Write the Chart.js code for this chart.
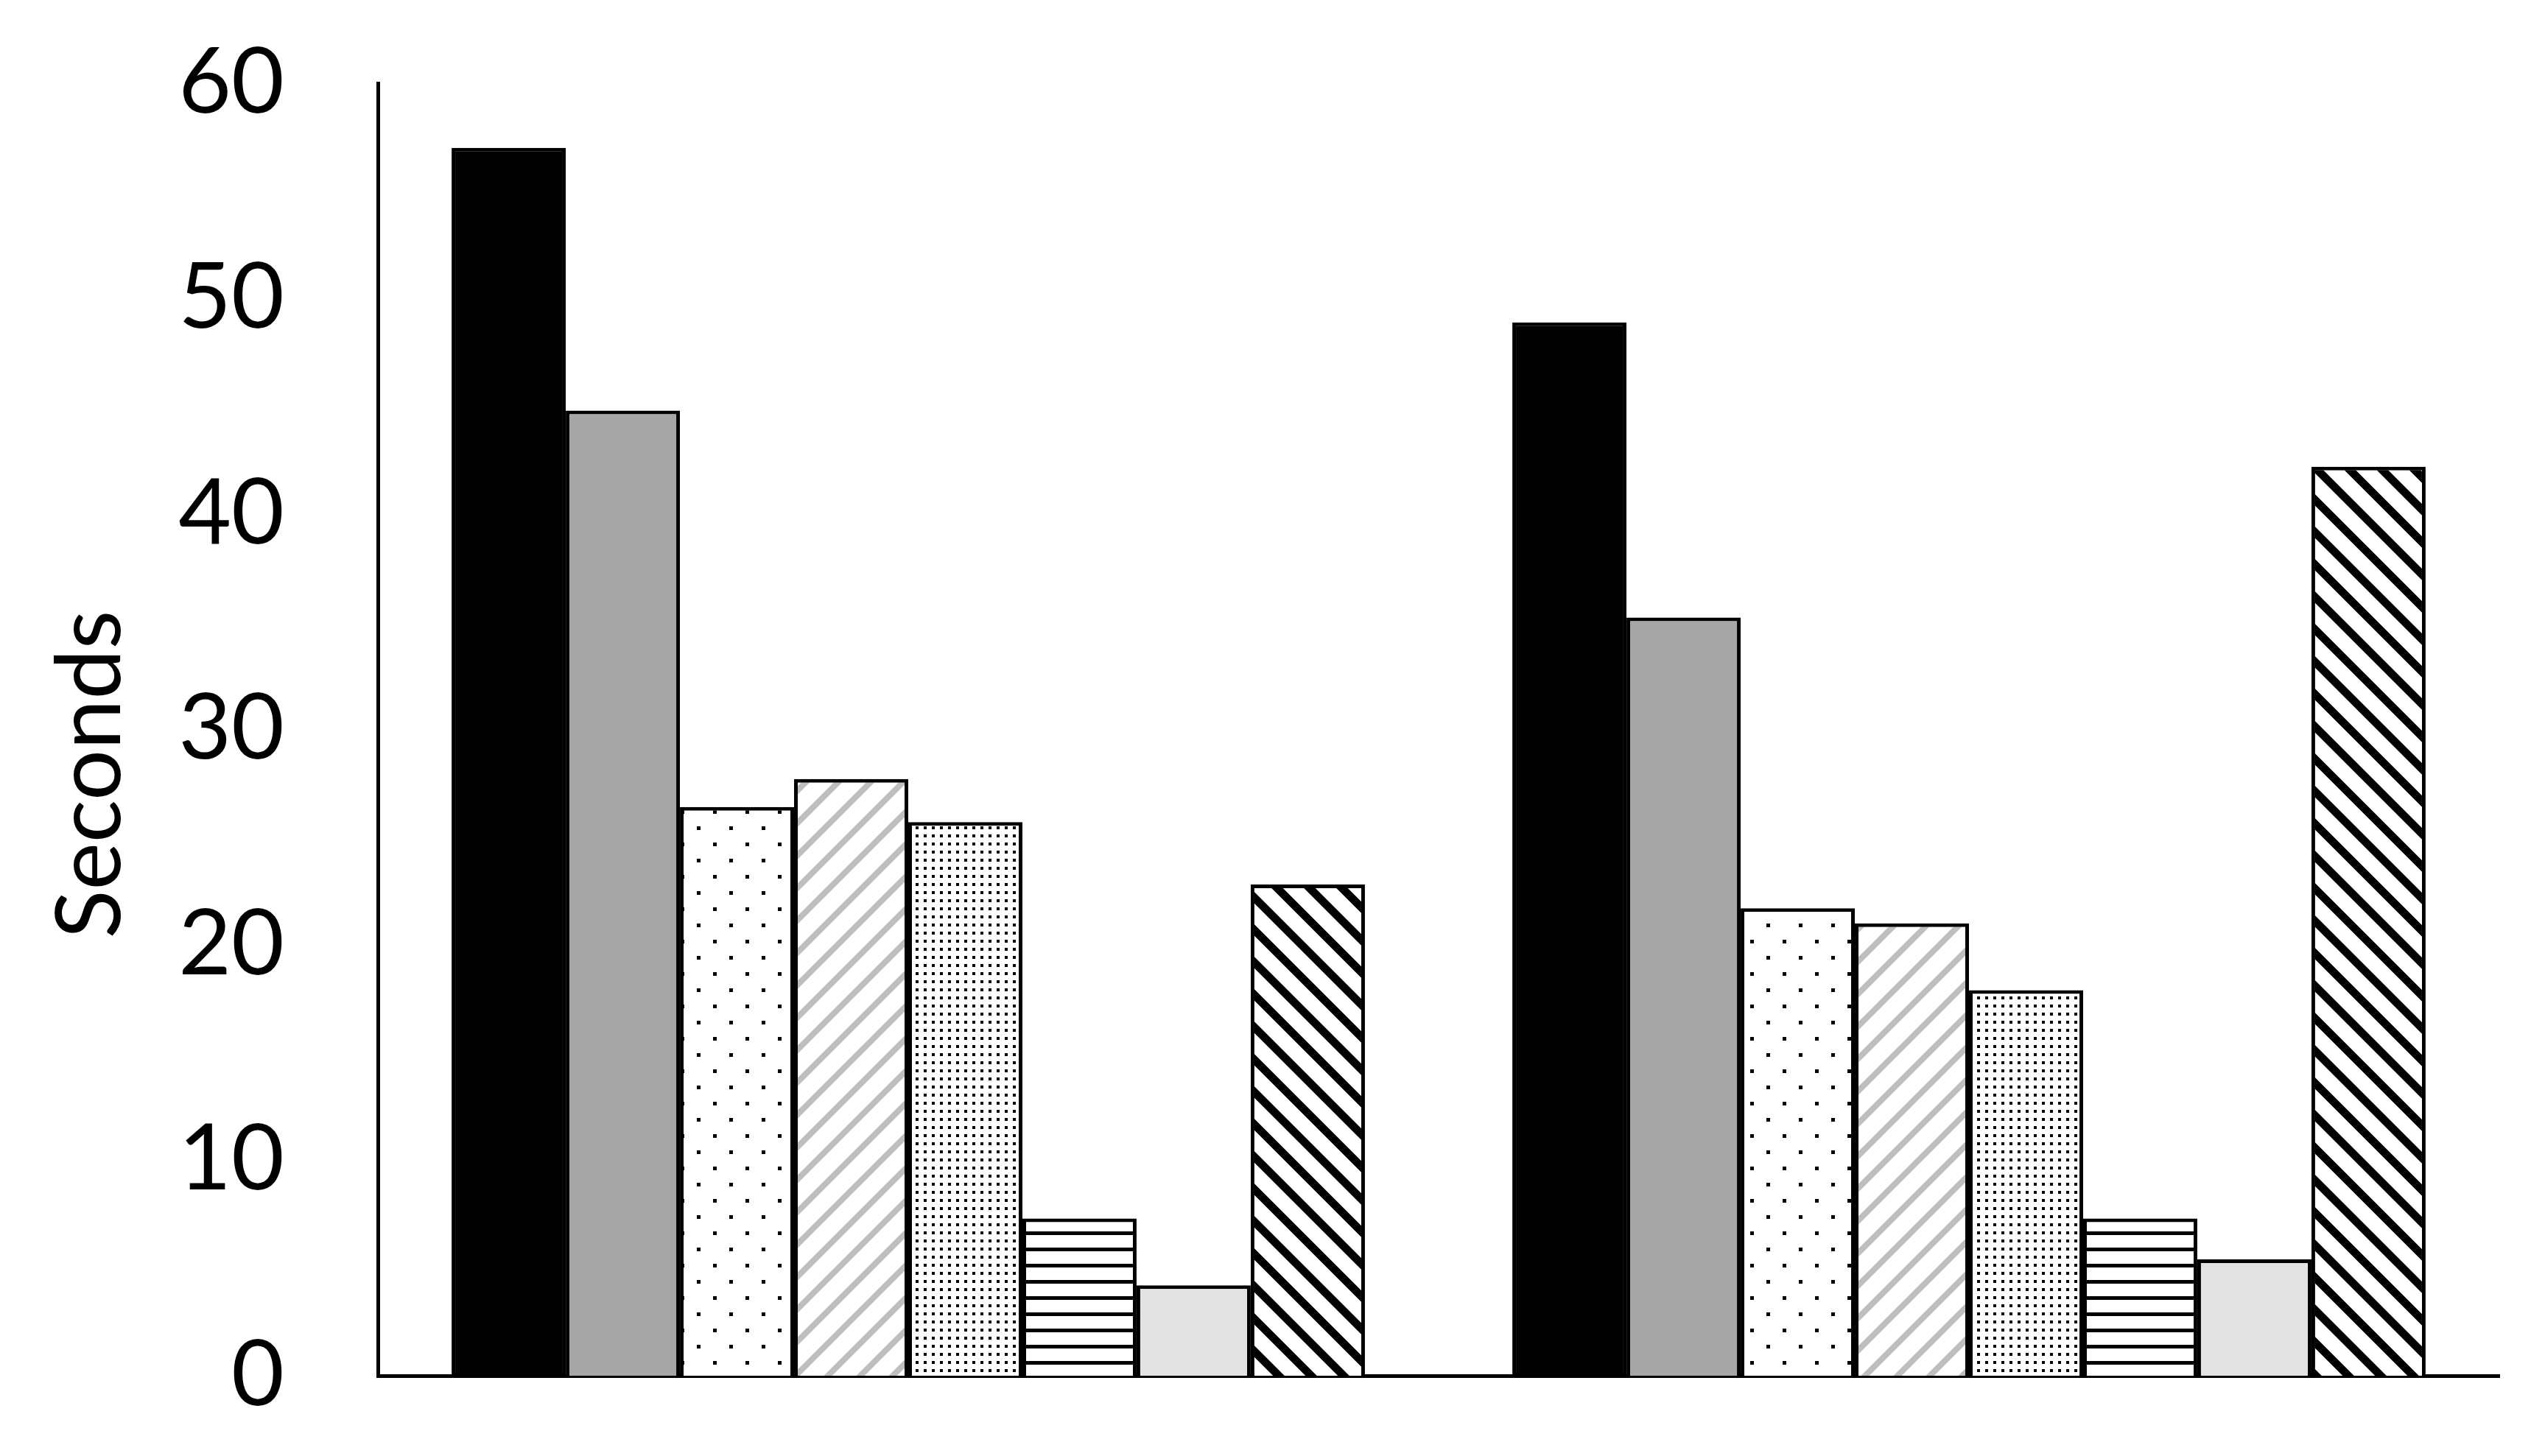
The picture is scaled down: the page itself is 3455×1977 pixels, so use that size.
<!DOCTYPE html>
<html>
<head>
<meta charset="utf-8">
<script src="https://cdn.jsdelivr.net/npm/chart.js@4.4.1/dist/chart.umd.min.js"></script>
<style>
  html, body { margin: 0; padding: 0; background: #fff; }
  #wrap { position: relative; width: 3455px; height: 1977px; }
</style>
</head>
<body>
<div id="wrap"><canvas id="chart"></canvas></div>
<script>
// two groups, eight series each (no category labels shown in the original)
const categories = ['', ''];
const seriesBlack     = [57.0, 48.9];
const seriesGray      = [44.8, 35.2];
const seriesDots      = [26.4, 21.7];
const seriesGrayDiag  = [27.7, 21.0];
const seriesFineDots  = [25.7, 17.9];
const seriesHLines    = [7.3, 7.3];
const seriesLightGray = [4.2, 5.4];
const seriesBlackDiag = [22.8, 42.2];
const yTicks = [0, 10, 20, 30, 40, 50, 60];

// --- fill patterns ---
function tile(size, draw) {
  const c = document.createElement('canvas');
  c.width = size; c.height = size;
  const g = c.getContext('2d');
  g.fillStyle = '#fff';
  g.fillRect(0, 0, size, size);
  draw(g, size);
  return document.getElementById('chart').getContext('2d').createPattern(c, 'repeat');
}

const patSparseDots = tile(44, (g) => {
  g.fillStyle = '#000';
  g.fillRect(0, 0, 5, 5);
  g.fillRect(22, 22, 5, 5);
});

const patFineDots = tile(11, (g) => {
  g.fillStyle = '#000';
  g.fillRect(0, 0, 4, 4);
});

const patHLines = tile(22, (g) => {
  g.fillStyle = '#000';
  g.fillRect(0, 0, 22, 5);
});

// 45 degree stripes; lines run past the tile so the corners join up
function diagonal(color, width, forward) {
  return tile(44, (g, p) => {
    g.strokeStyle = color;
    g.lineWidth = width;
    g.beginPath();
    for (let k = -1; k <= 1; k++) {
      if (forward) { g.moveTo(k * p - p, 2 * p); g.lineTo(k * p + 2 * p, -p); }
      else { g.moveTo(k * p - p, -p); g.lineTo(k * p + 2 * p, 2 * p); }
    }
    g.stroke();
  });
}
const patGrayDiag = diagonal('#bfbfbf', 8, true);
const patBlackDiag = diagonal('#000', 11, false);

function ds(data, fill) {
  return {
    data,
    backgroundColor: fill,
    borderColor: '#000',
    borderWidth: 5,
    categoryPercentage: 0.861,
    barPercentage: 1.0
  };
}

const FONT = 'Lato, "Open Sans", sans-serif';

new Chart(document.getElementById('chart'), {
  type: 'bar',
  data: {
    labels: categories,
    datasets: [
      ds(seriesBlack, '#000'),
      ds(seriesGray, '#a6a6a6'),
      ds(seriesDots, patSparseDots),
      ds(seriesGrayDiag, patGrayDiag),
      ds(seriesFineDots, patFineDots),
      ds(seriesHLines, patHLines),
      ds(seriesLightGray, '#e3e3e3'),
      ds(seriesBlackDiag, patBlackDiag)
    ]
  },
  options: {
    responsive: true,
    maintainAspectRatio: false,
    animation: false,
    layout: { padding: { top: 113, right: 62, bottom: 0, left: 0 } },
    plugins: {
      legend: { display: false },
      tooltip: { enabled: false }
    },
    scales: {
      x: {
        grid: { display: false, drawTicks: false },
        ticks: { display: false },
        border: { display: true, color: '#000', width: 5 },
        afterFit: (s) => { s.height = 109; }
      },
      y: {
        min: 0,
        max: 60,
        afterBuildTicks: (s) => { s.ticks = yTicks.map(v => ({ value: v })); },
        // tick marks are hidden; tickLength only sets the gap to the labels
        grid: { display: false, drawTicks: true, tickLength: 127 },
        border: { display: true, color: '#000', width: 5 },
        ticks: { color: '#000', padding: 0, font: { family: FONT, size: 124 } },
        title: {
          display: true,
          text: 'Seconds\u2002\u2002',
          color: '#000',
          padding: { top: 50, bottom: 0 },
          font: { family: FONT, size: 122 }
        },
        afterFit: (s) => { s.width = 513; }
      }
    }
  }
});
</script>
</body>
</html>
